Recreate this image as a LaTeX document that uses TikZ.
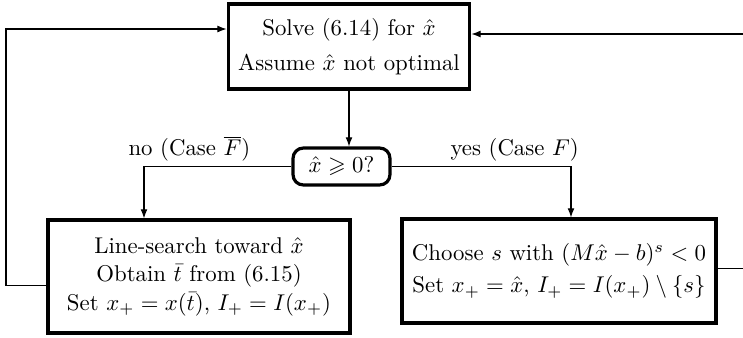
\documentclass[tikz,border=0pt]{standalone}
\usepackage{amssymb}
\usetikzlibrary{arrows.meta,calc}
\begin{document}
\begin{tikzpicture}[x=0.4386pt,y=-0.4386pt,
  box/.style={draw, line width=1.4pt, align=center, inner sep=0pt},
  decbox/.style={draw, line width=1.4pt, rounded corners=4.5pt, inner sep=0pt, minimum width=42.5pt, minimum height=16.2pt},
  conn/.style={line width=0.45pt},
  arr/.style={conn, -{Latex[length=4pt,width=3pt]}},
  lbl/.style={inner sep=2pt}]
\clip (0,0) rectangle (743,337);
\node[box, minimum width=106pt, minimum height=37.3pt] (solve) at (349,46.5)
  {Solve (6.14) for $\hat x$\\[3.4pt] Assume $\hat x$ not optimal};
\node[decbox] (test) at (341.5,166.5) {$\hat x \geqslant 0$?};
\node[box, minimum width=132.5pt, minimum height=49.6pt] (search) at (199,276.5)
  {Line-search toward $\hat x$\\[0.5pt] Obtain $\bar t$ from (6.15)\\[0.5pt] Set $x_+ = x(\bar t)$, $I_+ = I(x_+)$};
\node[box, minimum width=137.7pt, minimum height=45.6pt] (choose) at (559,271)
  {Choose $s$ with $(M\hat x - b)^s < 0$\\[2pt] Set $x_+ = \hat x$, $I_+ = I(x_+)\setminus\{s\}$};
\coordinate (lcorner) at (6,29);
\coordinate (rcorner) at (760,34);
\draw[arr] (solve.south) -- (solve.south |- test.north);
\draw[arr] (test.west) -| node[lbl, above, pos=0.346] {no (Case $\overline{F}$)} ($(search.north)+(-55,0)$);
\draw[arr] (test.east) -| node[lbl, above, pos=0.343] {yes (Case $F$)} ($(choose.north)+(12,0)$);
\draw[arr] ($(search.west)+(0,8.5)$) -| (lcorner) -- (lcorner -| solve.west);
\draw[arr] ($(choose.east)+(0,-3)$) -| (rcorner) -- (rcorner -| solve.east);
\end{tikzpicture}
\end{document}
